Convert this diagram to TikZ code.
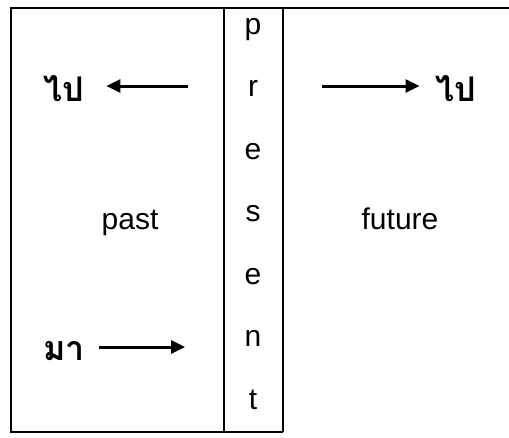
\documentclass[tikz,border=0pt]{standalone}
\usepackage{fontspec}
\setmainfont{Liberation Sans}
\newfontfamily\thaifont[Script=Thai]{Loma}
\usetikzlibrary{arrows.meta,positioning}

\begin{document}
\begin{tikzpicture}[
  x=1pt, y=-1pt,
  frame/.style={line width=2pt},
  letter/.style={font=\fontsize{30}{34}\selectfont, inner sep=0pt, anchor=base},
  word/.style={font=\fontsize{30}{34}\selectfont, inner sep=0pt, anchor=base},
  thai/.style={font=\thaifont\bfseries\fontsize{34}{38}\selectfont, inner sep=0pt, anchor=base},
  arr/.style={-{Triangle[length=14pt,width=13pt]}, line width=3pt}
]
\useasboundingbox (0,0) rectangle (509,437);

% frame
\draw[frame] (10,8) -- (509,8);
\draw[frame] (11,8) -- (11,432) -- (283,432);
\draw[frame] (224,8) -- (224,432);
\draw[frame] (283,8) -- (283,432);

% present, one letter per row
\foreach \ch [count=\i from 0] in {p,r,e,s,e,n,t}
  \node[letter] (pr\i) at (253,{34+62.5*\i}) {\ch};

% past side
\node[thai] (goL) at (64,101) {ไป};
\node[word] (past) at (130,229) {past};
\node[thai] (come) at (64,360) {มา};
\coordinate (goLstart) at (188,86);
\coordinate (comeEnd) at (185,347);
\draw[arr] (goLstart) -- (goLstart -| goL.east) [shorten >=22pt];
\draw[arr] (comeEnd -| come.east) [shorten <=14pt] -- (comeEnd);

% future side
\node[word] (future) at (400,229) {future};
\node[thai] (goR) at (456,101) {ไป};
\coordinate (goRstart) at (322,86);
\draw[arr] (goRstart) -- (goRstart -| goR.west) [shorten >=16pt];

\end{tikzpicture}
\end{document}
